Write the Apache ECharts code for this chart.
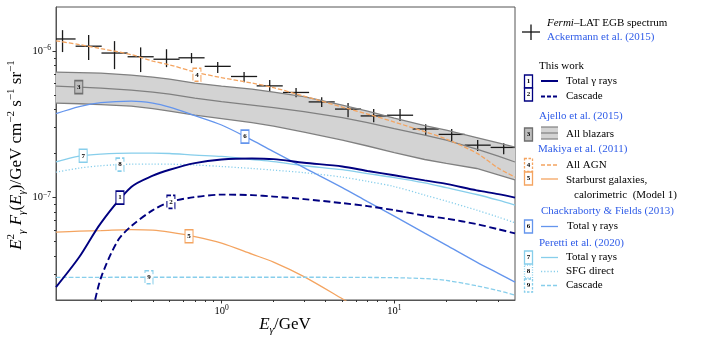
<!DOCTYPE html>
<html>
<head>
<meta charset="utf-8">
<script src="https://cdn.jsdelivr.net/npm/echarts@6/dist/echarts.min.js"></script>
<style>
  html, body { margin: 0; padding: 0; background: #fff; }
  #chart { width: 706px; height: 341px; }
</style>
</head>
<body>
<div id="chart"></div>
<script>
// photon energy grid, GeV
const energy = [0.11, 0.15, 0.2, 0.3, 0.4, 0.5, 0.7, 1, 1.5, 2, 3, 5, 7, 10, 15, 20, 30, 40, 50]

// Fermi-LAT EGB spectrum (Ackermann et al. 2015), E^2 F in GeV cm^-2 s^-1 sr^-1
const fermiE = [0.12, 0.17, 0.24, 0.34, 0.48, 0.67, 0.95, 1.35, 1.9, 2.7, 3.8, 5.4, 7.6, 10.8, 15.2, 21.5, 30.4, 43.0]
const fermiF = [1.21e-6, 1.08e-6, 9.7e-7, 9.15e-7, 8.8e-7, 9.0e-7, 7.87e-7, 6.71e-7, 5.79e-7, 5.22e-7, 4.5e-7, 4.02e-7, 3.61e-7, 3.65e-7, 2.94e-7, 2.7e-7, 2.28e-7, 2.2e-7]
const fermiLo = [9.85e-7, 8.68e-7, 7.53e-7, 7.19e-7, 7.77e-7, 8.28e-7, 7.08e-7, 6.14e-7, 5.25e-7, 4.85e-7, 4.15e-7, 3.54e-7, 3.27e-7, 3.33e-7, 2.63e-7, 2.43e-7, 2.08e-7, 1.98e-7]
const fermiHi = [1.39e-6, 1.29e-6, 1.17e-6, 1.06e-6, 1.03e-6, 9.7e-7, 8.41e-7, 7.19e-7, 6.34e-7, 5.59e-7, 4.85e-7, 4.42e-7, 4.02e-7, 4.02e-7, 3.17e-7, 2.94e-7, 2.47e-7, 2.35e-7]

// This work
const totalThis = [2.45e-8, 3.93e-8, 6.7e-8, 1.18e-7, 1.41e-7, 1.55e-7, 1.72e-7, 1.82e-7, 1.85e-7, 1.83e-7, 1.73e-7, 1.63e-7, 1.52e-7, 1.42e-7, 1.31e-7, 1.24e-7, 1.12e-7, 1.057e-7, 1.0e-7]
const cascadeE = [0.18, 0.2, 0.25, 0.3, 0.4, 0.5, 0.7, 1, 1.5, 2, 3, 5, 7, 10, 15, 20, 30, 40, 50]
const cascadeThis = [1.71e-8, 2.82e-8, 5.05e-8, 6.39e-8, 8.21e-8, 9.32e-8, 1.008e-7, 1.048e-7, 1.04e-7, 1.016e-7, 9.77e-8, 9.17e-8, 8.75e-8, 8.21e-8, 7.53e-8, 7.19e-8, 6.59e-8, 6.08e-8, 5.7e-8]

// Ajello et al. (2015), all blazars band
const blazarHi = [7.19e-7, 7.13e-7, 7.08e-7, 6.86e-7, 6.65e-7, 6.44e-7, 6.05e-7, 5.77e-7, 5.5e-7, 5.25e-7, 4.89e-7, 4.28e-7, 3.89e-7, 3.49e-7, 3.1e-7, 2.89e-7, 2.57e-7, 2.36e-7, 2.21e-7]
const blazarMid = [5.77e-7, 5.68e-7, 5.59e-7, 5.42e-7, 5.25e-7, 5.08e-7, 4.78e-7, 4.52e-7, 4.28e-7, 4.11e-7, 3.86e-7, 3.52e-7, 3.25e-7, 2.96e-7, 2.67e-7, 2.47e-7, 2.14e-7, 1.92e-7, 1.75e-7]
const blazarLo = [4.42e-7, 4.37e-7, 4.31e-7, 4.21e-7, 4.05e-7, 3.89e-7, 3.66e-7, 3.46e-7, 3.25e-7, 3.08e-7, 2.8e-7, 2.47e-7, 2.25e-7, 2.03e-7, 1.82e-7, 1.71e-7, 1.58e-7, 1.43e-7, 1.32e-7]

// Makiya et al. (2011)
const allAGN = [1.176e-6, 1.108e-6, 1.04e-6, 9.46e-7, 8.54e-7, 8.06e-7, 7.2e-7, 6.59e-7, 6.05e-7, 5.63e-7, 4.93e-7, 4.15e-7, 3.72e-7, 3.28e-7, 2.82e-7, 2.51e-7, 2.01e-7, 1.59e-7, 1.38e-7]
const starburstE = [0.11, 0.15, 0.2, 0.3, 0.4, 0.5, 0.7, 1, 1.5, 2, 3, 5, 6]
const starburst = [5.81e-8, 5.9e-8, 5.95e-8, 6.05e-8, 6.0e-8, 5.81e-8, 5.42e-8, 4.89e-8, 4.11e-8, 3.63e-8, 2.89e-8, 2.04e-8, 1.79e-8]

// Chackraborty & Fields (2013)
const totalCF = [3.74e-7, 4.18e-7, 4.45e-7, 4.56e-7, 4.42e-7, 4.15e-7, 3.63e-7, 3.13e-7, 2.47e-7, 2.06e-7, 1.6e-7, 1.17e-7, 9.39e-8, 7.48e-8, 5.72e-8, 4.74e-8, 3.63e-8, 3.04e-8, 2.65e-8]

// Peretti et al. (2020)
const totalP = [1.75e-7, 1.92e-7, 1.98e-7, 2.01e-7, 2.01e-7, 2.0e-7, 1.95e-7, 1.91e-7, 1.82e-7, 1.76e-7, 1.65e-7, 1.55e-7, 1.46e-7, 1.37e-7, 1.26e-7, 1.17e-7, 1.05e-7, 9.6e-8, 8.89e-8]
const sfgP = [1.49e-7, 1.59e-7, 1.65e-7, 1.69e-7, 1.69e-7, 1.69e-7, 1.67e-7, 1.63e-7, 1.58e-7, 1.54e-7, 1.48e-7, 1.38e-7, 1.29e-7, 1.19e-7, 1.04e-7, 9.46e-8, 8.21e-8, 7.36e-8, 6.73e-8]
const cascadePE = [0.11, 0.3, 1, 3, 7, 10, 15, 20, 30, 40, 50]
const cascadeP = [2.85e-8, 2.86e-8, 2.86e-8, 2.86e-8, 2.85e-8, 2.84e-8, 2.8e-8, 2.72e-8, 2.5e-8, 2.32e-8, 2.16e-8]

// numbered tags on the curves (1..9)
const tagX = [0.258, 0.509, 0.149, 0.72, 0.648, 1.366, 0.158, 0.258, 0.38]
const tagY = [1.0e-7, 9.35e-8, 5.68e-7, 6.9e-7, 5.45e-8, 2.61e-7, 1.93e-7, 1.68e-7, 2.86e-8]

// axis ticks
const xMajor = [1, 10]
const xMinor = [0.2, 0.3, 0.4, 0.5, 0.6, 0.7, 0.8, 0.9, 2, 3, 4, 5, 6, 7, 8, 9, 20, 30, 40]
const yMajor = [1e-7, 1e-6]
const yMinor = [3e-8, 4e-8, 5e-8, 6e-8, 7e-8, 8e-8, 9e-8, 2e-7, 3e-7, 4e-7, 5e-7, 6e-7, 7e-7, 8e-7, 9e-7]

const SERIF = '"Liberation Serif", "DejaVu Serif", serif'
const NAVY = '#000080'
const ORANGE = '#f4a460'
const CORN = '#6495ed'
const SKY = '#87ceeb'
const GREY = '#808080'
const REF = '#2f5ce8'

const pairs = (xs, ys) => xs.map((x, i) => [x, ys[i]])

function tag(n, color, dash, fill) {
	return {
		symbol: 'rect',
		symbolSize: [8, 13],
		silent: true,
		itemStyle: { color: fill || '#fff', borderColor: color, borderWidth: 1.3, borderType: dash || 'solid' },
		label: { show: true, position: 'inside', formatter: String(n), color: '#000', fontSize: 7, fontWeight: 'bold', fontFamily: SERIF },
		data: [{ coord: [tagX[n - 1], tagY[n - 1]] }]
	}
}

function curve(name, xs, ys, color, width, dash, n) {
	return {
		name: name,
		type: 'line',
		data: pairs(xs, ys),
		showSymbol: false,
		symbol: 'none',
		smooth: 0.3,
		clip: true,
		lineStyle: { color: color, width: width, type: dash || 'solid' },
		markPoint: n ? tag(n, color, Array.isArray(dash) ? 'dashed' : dash) : undefined
	}
}

function supLabel(v) {
	const e = Math.round(Math.log10(v))
	return '{a|10}{b|' + (e < 0 ? '−' : '') + Math.abs(e) + '}'
}
const tickRich = {
	a: { fontSize: 10.5, fontFamily: SERIF, color: '#000', lineHeight: 14 },
	b: { fontSize: 7.5, fontFamily: SERIF, color: '#000', lineHeight: 7, verticalAlign: 'top' }
}

// ---- legend (right side), drawn as graphic elements
const LX = 528.5
const legend = []
function lbox(cy, n, color, dash, fill) {
	legend.push({ type: 'rect', shape: { x: LX - 4, y: cy - 6.5, width: 8, height: 13 },
		style: { fill: fill || '#fff', stroke: color, lineWidth: 1.3, lineDash: dash || null } })
	legend.push({ type: 'text', style: { text: String(n), x: LX, y: cy, font: 'bold 7px ' + SERIF, fill: '#000', textAlign: 'center', textVerticalAlign: 'middle' } })
}
function lline(cy, color, width, dash) {
	legend.push({ type: 'line', shape: { x1: 541, y1: cy, x2: 558, y2: cy }, style: { stroke: color, lineWidth: width, lineDash: dash || null } })
}
function ltext(x, cy, text, color) {
	legend.push({ type: 'text', style: { text: text, x: x, y: cy, font: '11px ' + SERIF, fill: color || '#000', textAlign: 'left', textVerticalAlign: 'middle' } })
}

legend.push({ type: 'line', shape: { x1: 522, y1: 32, x2: 540, y2: 32 }, style: { stroke: '#111', lineWidth: 1.3 } })
legend.push({ type: 'line', shape: { x1: 531, y1: 24.5, x2: 531, y2: 40 }, style: { stroke: '#111', lineWidth: 1.3 } })
legend.push({ type: 'text', style: { text: '{i|Fermi}{r|–LAT EGB spectrum}', x: 547, y: 23, textAlign: 'left', textVerticalAlign: 'middle',
	rich: { i: { fontStyle: 'italic', fontSize: 11, fontFamily: SERIF, fill: '#000' }, r: { fontSize: 11, fontFamily: SERIF, fill: '#000' } } } })
ltext(547, 37, 'Ackermann et al. (2015)', REF)

ltext(539, 66, 'This work')
lbox(81.5, 1, NAVY); lline(81, NAVY, 2); ltext(566, 81, 'Total γ rays')
lbox(94.5, 2, NAVY); lline(96.5, NAVY, 2, [4, 2]); ltext(566, 96.5, 'Cascade')

ltext(539, 116, 'Ajello et al. (2015)', REF)
lbox(134.5, 3, '#6e6e6e', null, '#bdbdbd')
legend.push({ type: 'rect', shape: { x: 541, y: 127, width: 17, height: 12 }, style: { fill: '#d3d3d3' } })
lline(127, GREY, 1.2); lline(133, GREY, 1.2); lline(139, GREY, 1.2)
ltext(566, 134, 'All blazars')

ltext(538, 149, 'Makiya et al. (2011)', REF)
lbox(165, 4, ORANGE, [2.5, 1.5]); lline(165, ORANGE, 1.3, [4, 2]); ltext(566, 165, 'All AGN')
lbox(178.5, 5, ORANGE); lline(179, ORANGE, 1.3); ltext(566, 180.5, 'Starburst galaxies,')
ltext(574, 195, 'calorimetric  (Model 1)')

ltext(541, 211, 'Chackraborty & Fields (2013)', REF)
lbox(226.5, 6, CORN); lline(226.5, CORN, 1.3); ltext(567, 226.5, 'Total γ rays')

ltext(539, 243, 'Peretti et al. (2020)', REF)
lbox(257.5, 7, SKY); lline(257.5, SKY, 1.3); ltext(566, 257.5, 'Total γ rays')
lbox(271.5, 8, SKY, [1, 1.5]); lline(271.5, SKY, 1.3, [1.2, 2]); ltext(566, 271.5, 'SFG direct')
lbox(285.5, 9, SKY, [2.5, 1.5]); lline(285.5, SKY, 1.3, [4, 2]); ltext(566, 285.5, 'Cascade')

// axis titles
const titleRich = {
	it: { fontSize: 17, fontStyle: 'italic', fontFamily: SERIF, fill: '#000', lineHeight: 22 },
	rm: { fontSize: 17, fontFamily: SERIF, fill: '#000', lineHeight: 22 },
	sub: { fontSize: 11, fontStyle: 'italic', fontFamily: SERIF, fill: '#000', lineHeight: 11, verticalAlign: 'bottom' },
	sup: { fontSize: 11, fontFamily: SERIF, fill: '#000', lineHeight: 11, verticalAlign: 'top' }
}
legend.push({ type: 'text', x: 17, y: 155, rotation: Math.PI / 2,
	style: { text: '{it|E}{sup|2}{sub|γ}{it| F}{sub|γ}{rm|(}{it|E}{sub|γ}{rm|)/GeV cm}{sup|−2}{rm| s}{sup|−1}{rm| sr}{sup|−1}',
		x: 0, y: 0, textAlign: 'center', textVerticalAlign: 'middle', rich: titleRich } })
legend.push({ type: 'text', x: 285, y: 325,
	style: { text: '{it|E}{sub|γ}{rm|/GeV}', x: 0, y: 0, textAlign: 'center', textVerticalAlign: 'middle', rich: titleRich } })

const chart = echarts.init(document.getElementById('chart'))
chart.setOption({
	animation: false,
	backgroundColor: '#fff',
	grid: { left: 56, top: 7, width: 459, height: 293, show: true, borderColor: '#555', borderWidth: 1, backgroundColor: 'transparent', outerBoundsMode: 'none' },
	xAxis: [{
		type: 'log', min: 0.11, max: 50, position: 'bottom',
		axisLine: { lineStyle: { color: '#555', width: 1 } },
		axisTick: { customValues: xMajor, length: 3.5, inside: false, lineStyle: { color: '#333' } },
		axisLabel: { customValues: xMajor, formatter: supLabel, rich: tickRich, margin: 4 },
		splitLine: { show: false }
	}, {
		type: 'log', min: 0.11, max: 50, position: 'bottom',
		axisLine: { show: false },
		axisTick: { customValues: xMinor, length: 2, lineStyle: { color: '#333' } },
		axisLabel: { show: false },
		splitLine: { show: false }
	}],
	yAxis: [{
		type: 'log', min: 2e-8, max: 2e-6, position: 'left',
		axisLine: { show: true, lineStyle: { color: '#555', width: 1 } },
		axisTick: { show: true, customValues: yMajor, length: 3.5, lineStyle: { color: '#333' } },
		axisLabel: { customValues: yMajor, formatter: supLabel, rich: tickRich, margin: 5 },
		splitLine: { show: false }
	}, {
		type: 'log', min: 2e-8, max: 2e-6, position: 'left',
		axisLine: { show: false },
		axisTick: { show: true, customValues: yMinor, length: 2, lineStyle: { color: '#333' } },
		axisLabel: { show: false },
		splitLine: { show: false }
	}],
	graphic: legend,
	series: [
		{
			name: 'blazar band',
			type: 'custom',
			z: 1,
			clip: true,
			data: [[energy[0], blazarMid[0]]],
			encode: { x: 0, y: 1 },
			renderItem(params, api) {
				const up = energy.map((e, i) => api.coord([e, blazarHi[i]]))
				const dn = energy.map((e, i) => api.coord([e, blazarLo[i]])).reverse()
				return { type: 'polygon', shape: { points: up.concat(dn) }, style: { fill: '#d3d3d3' } }
			}
		},
		{ name: 'blazar hi', type: 'line', data: pairs(energy, blazarHi), symbol: 'none', lineStyle: { color: GREY, width: 1.3 } },
		{ name: 'blazar mid', type: 'line', data: pairs(energy, blazarMid), symbol: 'none', lineStyle: { color: GREY, width: 1.3 },
			markPoint: tag(3, '#6e6e6e', 'solid', '#bdbdbd') },
		{ name: 'blazar lo', type: 'line', data: pairs(energy, blazarLo), symbol: 'none', lineStyle: { color: GREY, width: 1.3 } },
		curve('Starburst', starburstE, starburst, ORANGE, 1.3, null, 5),
		curve('Peretti cascade', cascadePE, cascadeP, SKY, 1.3, [4.5, 2], 9),
		curve('Peretti SFG', energy, sfgP, SKY, 1.3, [1.2, 2], 8),
		curve('Peretti total', energy, totalP, SKY, 1.3, null, 7),
		curve('CF total', energy, totalCF, CORN, 1.3, null, 6),
		curve('This cascade', cascadeE, cascadeThis, NAVY, 1.9, [7, 3.5], 2),
		curve('This total', energy, totalThis, NAVY, 1.9, null, 1),
		curve('All AGN', energy, allAGN, ORANGE, 1.3, [4.5, 2], 4),
		{
			name: 'Fermi-LAT EGB',
			type: 'custom',
			z: 3,
			clip: true,
			data: fermiE.map((e, i) => [e, fermiF[i], fermiLo[i], fermiHi[i]]),
			encode: { x: 0, y: 1 },
			renderItem(params, api) {
				const e = api.value(0), f = api.value(1)
				const c = api.coord([e, f])
				const l = api.coord([e / 1.19, f]), r = api.coord([e * 1.19, f])
				const b = api.coord([e, api.value(2)]), t = api.coord([e, api.value(3)])
				const st = { stroke: '#1a1a1a', lineWidth: 1.3 }
				return { type: 'group', children: [
					{ type: 'line', shape: { x1: l[0], y1: c[1], x2: r[0], y2: c[1] }, style: st },
					{ type: 'line', shape: { x1: c[0], y1: t[1], x2: c[0], y2: b[1] }, style: st }
				] }
			}
		}
	]
})
</script>
</body>
</html>
